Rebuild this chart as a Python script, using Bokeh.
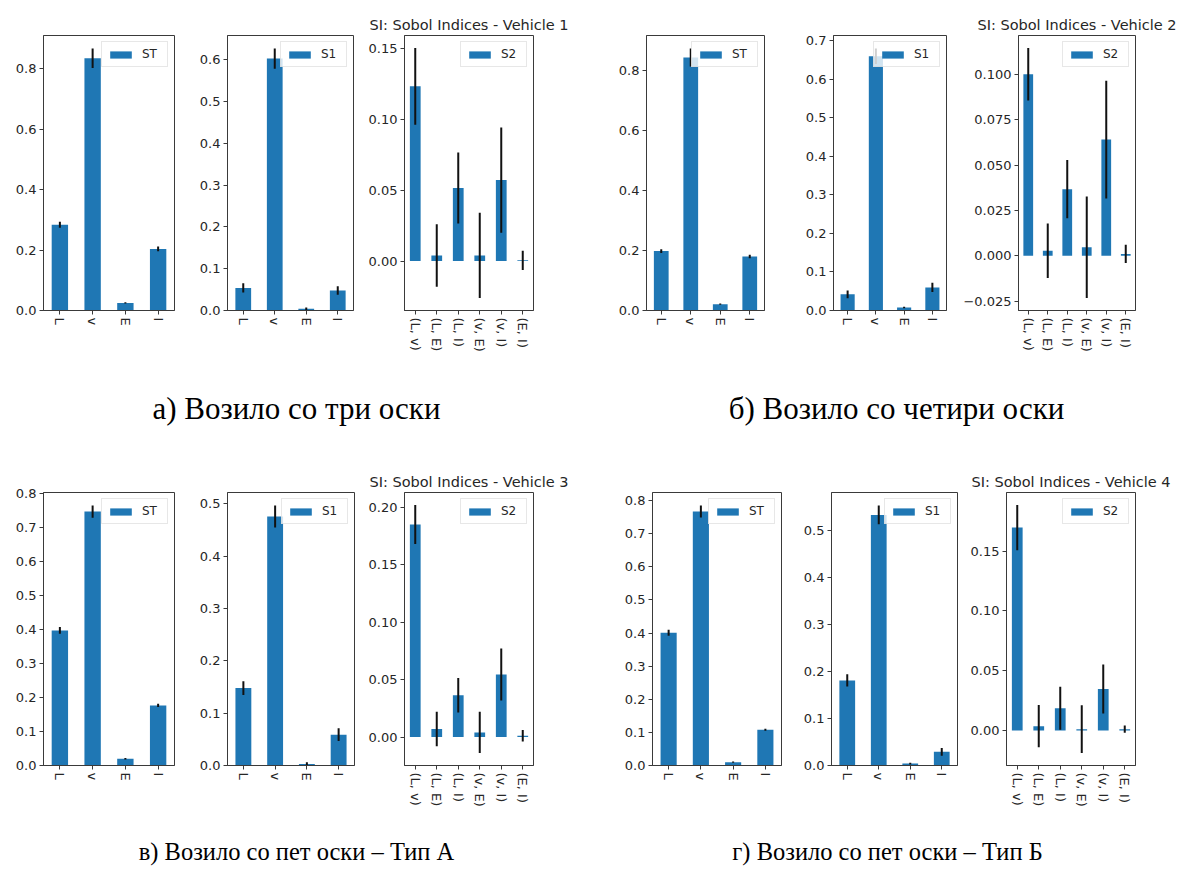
from bokeh.plotting import figure
from bokeh.models import FactorRange, Range1d, FixedTicker, PrintfTickFormatter, ColumnDataSource, Label
from bokeh.layouts import row, column
from bokeh.embed import file_html
from bokeh.resources import INLINE

# ---------------- data ----------------
first_order = ["L", "v", "E", "I"]
second_order = ["(L, v)", "(L, E)", "(L, I)", "(v, E)", "(v, I)", "(E, I)"]

v1_st = [0.284, 0.835, 0.025, 0.204]
v1_st_conf = [0.010, 0.032, 0.002, 0.008]
v1_s1 = [0.054, 0.603, 0.004, 0.048]
v1_s1_conf = [0.011, 0.024, 0.003, 0.010]
v1_s2 = [0.123, 0.004, 0.0515, 0.004, 0.057, 0.0005]
v1_s2_conf = [0.027, 0.022, 0.025, 0.030, 0.037, 0.0068]

v2_st = [0.198, 0.843, 0.021, 0.180]
v2_st_conf = [0.006, 0.030, 0.002, 0.006]
v2_s1 = [0.042, 0.660, 0.008, 0.060]
v2_s1_conf = [0.010, 0.020, 0.002, 0.012]
v2_s2 = [0.100, 0.0027, 0.0367, 0.0047, 0.064, 0.001]
v2_s2_conf = [0.0145, 0.015, 0.016, 0.028, 0.0325, 0.005]

v3_st = [0.398, 0.748, 0.020, 0.177]
v3_st_conf = [0.010, 0.018, 0.002, 0.005]
v3_s1 = [0.148, 0.476, 0.003, 0.059]
v3_s1_conf = [0.013, 0.021, 0.003, 0.012]
v3_s2 = [0.185, 0.007, 0.0364, 0.004, 0.0544, 0.001]
v3_s2_conf = [0.017, 0.015, 0.015, 0.018, 0.0227, 0.005]

v4_st = [0.401, 0.767, 0.010, 0.108]
v4_st_conf = [0.009, 0.018, 0.002, 0.003]
v4_s1 = [0.181, 0.533, 0.004, 0.029]
v4_s1_conf = [0.013, 0.020, 0.002, 0.008]
v4_s2 = [0.1697, 0.0035, 0.0186, 0.001, 0.0346, 0.001]
v4_s2_conf = [0.019, 0.0177, 0.018, 0.020, 0.0205, 0.003]

ticks_02 = [0.0, 0.2, 0.4, 0.6, 0.8]
ticks_01_06 = [0.0, 0.1, 0.2, 0.3, 0.4, 0.5, 0.6]
ticks_01_07 = [0.0, 0.1, 0.2, 0.3, 0.4, 0.5, 0.6, 0.7]
ticks_01_08 = [0.0, 0.1, 0.2, 0.3, 0.4, 0.5, 0.6, 0.7, 0.8]
ticks_01_05 = [0.0, 0.1, 0.2, 0.3, 0.4, 0.5]
ticks_005_015 = [0.0, 0.05, 0.10, 0.15]
ticks_005_020 = [0.0, 0.05, 0.10, 0.15, 0.20]
ticks_0025 = [-0.025, 0.0, 0.025, 0.050, 0.075, 0.100]

titles = ["SI: Sobol Indices - Vehicle 1", "SI: Sobol Indices - Vehicle 2",
          "SI: Sobol Indices - Vehicle 3", "SI: Sobol Indices - Vehicle 4"]
captions = ["а) Возило со три оски", "б) Возило со четири оски",
            "в) Возило со пет оски – Тип А", "г) Возило со пет оски – Тип Б"]

BAR = "#1f77b4"
INK = "#262626"
FONT = "DejaVu Sans"


def panel(cats, vals, errs, label, ticks, fmt, width, height, bl, br, bt, bb, title=None):
    lo = [v - e for v, e in zip(vals, errs)]
    hi = [v + e for v, e in zip(vals, errs)]
    dmax = max(hi + vals)
    dmin = min(lo + [0.0])
    span = dmax - dmin
    end = dmax + 0.05 * span
    start = 0.0 if dmin >= 0 else dmin - 0.05 * span
    kw = dict(x_range=FactorRange(factors=cats, range_padding=0),
              y_range=Range1d(start, end), width=width, height=height,
              output_backend="svg", toolbar_location=None,
              min_border_left=bl, min_border_right=br,
              min_border_top=bt, min_border_bottom=bb)
    if title:
        kw["title"] = title
    p = figure(**kw)
    src = ColumnDataSource(dict(x=cats, top=vals, lo=lo, hi=hi))
    p.vbar(x="x", top="top", bottom=0, width=0.5, source=src,
           fill_color=BAR, line_color=None, legend_label=label)
    p.segment(x0="x", y0="lo", x1="x", y1="hi", source=src,
              line_color="#111111", line_width=2)
    p.xgrid.visible = False
    p.ygrid.visible = False
    p.outline_line_color = "#3a3a3a"
    p.outline_line_width = 1
    p.outline_line_alpha = 1
    p.background_fill_color = "white"
    p.border_fill_color = "white"
    for ax in (p.xaxis[0], p.yaxis[0]):
        ax.axis_line_color = "#3a3a3a"
        ax.major_tick_line_color = "#3a3a3a"
        ax.major_tick_out = 4
        ax.major_tick_in = 0
        ax.minor_tick_line_color = None
        ax.major_label_standoff = 3
        ax.major_label_text_font = FONT
        ax.major_label_text_font_size = "13px"
        ax.major_label_text_color = INK
    p.yaxis[0].ticker = FixedTicker(ticks=ticks)
    p.yaxis[0].formatter = PrintfTickFormatter(format=fmt)
    neg = {t: ("−" + (fmt % abs(t))) for t in ticks if t < 0}
    if neg:
        p.yaxis[0].major_label_overrides = neg
    p.xaxis[0].major_label_orientation = "vertical"
    lg = p.legend[0]
    lg.location = "top_right"
    lg.margin = 6
    lg.padding = 5
    lg.spacing = 0
    lg.glyph_width = 27
    lg.glyph_height = 9
    lg.label_height = 12
    lg.label_standoff = 8
    lg.label_text_font = FONT
    lg.label_text_font_size = "12px"
    lg.label_text_color = INK
    lg.border_line_color = "#d0d0d0"
    lg.background_fill_alpha = 0.8
    if title:
        p.title.text_font = FONT
        p.title.text_font_size = "14.5px"
        p.title.text_font_style = "normal"
        p.title.text_color = INK
        p.title.align = "center"
        p.title.standoff = 6
    return p


TOP_H, BOT_H = 375, 378

f1 = panel(first_order, v1_st, v1_st_conf, "ST", ticks_02, "%.1f", 196, TOP_H, 43, 22, 35, 65)
f2 = panel(first_order, v1_s1, v1_s1_conf, "S1", ticks_01_06, "%.1f", 166, TOP_H, 27, 9, 35, 65)
f3 = panel(second_order, v1_s2, v1_s2_conf, "S2", ticks_005_015, "%.2f", 238, TOP_H, 42, 67, 35, 65, titles[0])
f4 = panel(first_order, v2_st, v2_st_conf, "ST", ticks_02, "%.1f", 188, TOP_H, 46, 24, 35, 65)
f5 = panel(first_order, v2_s1, v2_s1_conf, "S1", ticks_01_07, "%.1f", 172, TOP_H, 45, 14, 35, 65)
f6 = panel(second_order, v2_s2, v2_s2_conf, "S2", ticks_0025, "%.3f", 219, TOP_H, 58, 44, 35, 65, titles[1])

f7 = panel(first_order, v3_st, v3_st_conf, "ST", ticks_01_08, "%.1f", 196, BOT_H, 43, 22, 52, 53)
f8 = panel(first_order, v3_s1, v3_s1_conf, "S1", ticks_01_05, "%.1f", 166, BOT_H, 27, 8, 52, 53)
f9 = panel(second_order, v3_s2, v3_s2_conf, "S2", ticks_005_020, "%.2f", 238, BOT_H, 42, 67, 52, 53, titles[2])
f10 = panel(first_order, v4_st, v4_st_conf, "ST", ticks_01_08, "%.1f", 190, BOT_H, 52, 9, 52, 53)
f11 = panel(first_order, v4_s1, v4_s1_conf, "S1", ticks_01_05, "%.1f", 176, BOT_H, 41, 9, 52, 53)
f12 = panel(second_order, v4_s2, v4_s2_conf, "S2", ticks_005_015, "%.2f", 213, BOT_H, 40, 44, 52, 53, titles[3])


def caption_fig(height, texts, xs, y, size):
    c = figure(width=1179, height=height, x_range=Range1d(0, 1), y_range=Range1d(0, 1),
               x_axis_location=None, y_axis_location=None, toolbar_location=None,
               output_backend="svg", min_border=0)
    c.outline_line_color = None
    c.xgrid.visible = False
    c.ygrid.visible = False
    for t, x in zip(texts, xs):
        c.add_layout(Label(x=x, y=y, x_units="screen", y_units="screen", text=t,
                           text_font="Liberation Serif", text_font_size=size,
                           text_align="center", text_baseline="middle", text_color="black"))
    return c


cap1 = caption_fig(65, captions[0:2], [296, 896], 32, "31px")
cap2 = caption_fig(55, captions[2:4], [296, 887], 22, "24.5px")

layout = column(row(f1, f2, f3, f4, f5, f6), cap1,
                row(f7, f8, f9, f10, f11, f12), cap2)

open("out.html", "w").write(file_html(layout, INLINE))
